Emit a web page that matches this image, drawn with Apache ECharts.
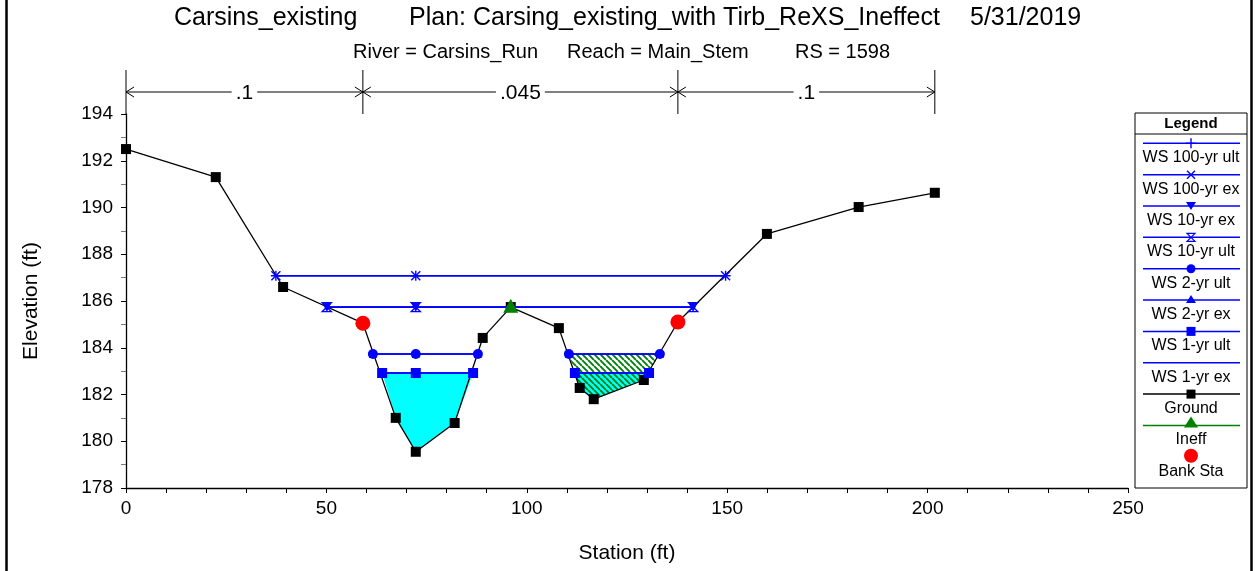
<!DOCTYPE html>
<html>
<head>
<meta charset="utf-8">
<script src="https://cdn.jsdelivr.net/npm/echarts@6/dist/echarts.min.js"></script>
<style>
html, body { margin: 0; padding: 0; background: #fff; }
#main { width: 1255px; height: 571px; }
</style>
</head>
<body>
<div id="main"></div>
<script>
// ground profile (station ft, elevation ft)
var groundSta  = [0, 22.4, 39.2, 59.1, 67.3, 72.3, 82.0, 89.0, 96.0, 108.0, 113.2, 116.7, 129.2, 137.7, 159.9, 182.8, 201.8];
var groundElev = [192.5, 191.3, 186.6, 185.05, 181.0, 179.55, 180.78, 184.42, 185.74, 184.84, 182.28, 181.8, 182.62, 185.1, 188.87, 190.02, 190.63];

// water surfaces: elevation + station segments
var ws100Elev = 187.08, ws100Segs = [[37.4, 72.3, 149.6]];
var ws10Elev  = 185.74, ws10Segs  = [[50.1, 72.3, 141.5]];
var ws2Elev   = 183.73, ws2Segs   = [[61.6, 72.3, 87.8], [110.5, 133.2]];
var ws1Elev   = 182.92, ws1Segs   = [[63.9, 72.3, 86.6], [112.0, 130.5]];

var ineffPts = [[96.0, 185.8]];
var bankPts  = [[59.1, 185.05], [137.7, 185.1]];

// manning's n along top
var nSta = [0, 59.1, 137.7, 201.8];
var nVal = ['.1', '.045', '.1'];

var legendNames = ['WS 100-yr ult', 'WS 100-yr ex', 'WS 10-yr ex', 'WS 10-yr ult', 'WS 2-yr ult',
  'WS 2-yr ex', 'WS 1-yr ult', 'WS 1-yr ex', 'Ground', 'Ineff', 'Bank Sta'];

var FONT = '"Liberation Sans", Arial, sans-serif';
var BLUE = '#0000ff';

var ground = groundSta.map(function (s, i) { return [s, groundElev[i]]; });

// polygon under a water level between two stations, following the ground
function waterPoly(elev, s0, s1) {
  var pts = [[s0, elev]];
  ground.forEach(function (g) { if (g[0] > s0 && g[0] < s1 && g[1] < elev) pts.push(g); });
  pts.push([s1, elev]);
  return pts;
}

var hatch = document.createElement('canvas');
hatch.width = hatch.height = 6;
(function () {
  var ctx = hatch.getContext('2d');
  ctx.strokeStyle = '#00800a';
  ctx.lineWidth = 1.9;
  ctx.beginPath();
  [-6, 0, 6].forEach(function (k) { ctx.moveTo(k, 0); ctx.lineTo(k + 6, 6); });
  ctx.stroke();
})();

function polySeries(pts, fill, z) {
  return {
    type: 'custom', silent: true, z: z, data: [[0, 180]],
    renderItem: function (p, api) {
      return { type: 'polygon', shape: { points: pts.map(function (q) { return api.coord(q); }) },
        style: { fill: fill, stroke: null } };
    }
  };
}

function wsSeries(name, elev, segs, symbol, size, filled) {
  return segs.map(function (seg) {
    return {
      name: name, type: 'line', z: 4, silent: true,
      data: seg.map(function (s) { return [s, elev]; }),
      symbol: symbol, symbolSize: size, showSymbol: symbol !== 'none',
      lineStyle: { color: BLUE, width: 1.6 },
      itemStyle: { color: filled ? BLUE : 'rgba(0,0,0,0)', borderColor: BLUE, borderWidth: filled ? 0 : 1.4 }
    };
  });
}

var PLUS = 'path://M5,0L5,10M0,5L10,5';
var CROSS = 'path://M0,0L10,10M10,0L0,10';
var HOUR = 'path://M0,0L10,0L0,10L10,10Z';

var series = [
  polySeries(waterPoly(ws1Elev, ws1Segs[0][0], ws1Segs[0][2]), '#00ffff', 1),
  polySeries(waterPoly(ws1Elev, ws1Segs[1][0], ws1Segs[1][1]), '#00ffff', 1),
  polySeries(waterPoly(ws2Elev, ws2Segs[1][0], ws2Segs[1][1]), { image: hatch, repeat: 'repeat' }, 2),
  {
    name: 'Ground', type: 'line', z: 3, silent: true, data: ground,
    symbol: 'rect', symbolSize: 10,
    lineStyle: { color: '#000', width: 1.3 }, itemStyle: { color: '#000' }
  }
];
series = series
  .concat(wsSeries('WS 100-yr ult', ws100Elev, ws100Segs, PLUS, 10, false))
  .concat(wsSeries('WS 100-yr ex', ws100Elev, ws100Segs, CROSS, 9, false))
  .concat(wsSeries('WS 10-yr ex', ws10Elev, ws10Segs, 'triangle', 10, true).map(function (s) { s.symbolRotate = 180; return s; }))
  .concat(wsSeries('WS 10-yr ult', ws10Elev, ws10Segs, HOUR, 9, false))
  .concat(wsSeries('WS 2-yr ult', ws2Elev, ws2Segs, 'circle', 10, true))
  .concat(wsSeries('WS 2-yr ex', ws2Elev, ws2Segs, 'triangle', 8, true))
  .concat(wsSeries('WS 1-yr ult', ws1Elev, ws1Segs, 'rect', 10, true))
  .concat(wsSeries('WS 1-yr ex', ws1Elev, ws1Segs, 'none', 0, true));

series.push({
  name: 'Ineff', type: 'scatter', zlevel: 1, z: 10, silent: true, data: ineffPts,
  symbol: 'triangle', symbolSize: [15, 14], itemStyle: { color: '#008000', opacity: 1 }
});
series.push({
  name: 'Bank Sta', type: 'scatter', zlevel: 1, z: 10, silent: true, data: bankPts,
  symbol: 'circle', symbolSize: 15, itemStyle: { color: '#ff0000', opacity: 1 }
});

// n-value bar above plot
series.push({
  type: 'custom', silent: true, clip: false, z: 6,
  encode: { x: [0, 1], y: 2 },
  data: nVal.map(function (v, i) { return [nSta[i], nSta[i + 1], i]; }),
  renderItem: function (params, api) {
    var i = api.value(2);
    var x0 = api.coord([api.value(0), 186])[0];
    var x1 = api.coord([api.value(1), 186])[0];
    var top = params.coordSys.y;
    var yb = top - 22;
    var st = { stroke: '#000', lineWidth: 1, fill: null };
    var kids = [
      { type: 'line', shape: { x1: x0, y1: top - 44, x2: x0, y2: top }, style: st },
      { type: 'line', shape: { x1: x0, y1: yb, x2: x1, y2: yb }, style: st },
      { type: 'polyline', shape: { points: [[x0 + 8, yb - 5], [x0, yb], [x0 + 8, yb + 5]] }, style: st },
      { type: 'polyline', shape: { points: [[x1 - 8, yb - 5], [x1, yb], [x1 - 8, yb + 5]] }, style: st },
      { type: 'text', x: (x0 + x1) / 2, y: yb + 1,
        style: { text: nVal[i], font: '21px ' + FONT, fill: '#000', align: 'center', verticalAlign: 'middle',
          backgroundColor: '#fff', padding: [0, 4] } }
    ];
    if (i === nVal.length - 1) {
      kids.push({ type: 'line', shape: { x1: x1, y1: top - 44, x2: x1, y2: top }, style: st });
    }
    return { type: 'group', children: kids };
  }
});

// legend drawn as graphic
var LX = 1191, LY0 = 143.3, LSTEP = 31.35;
var legendGfx = [
  { type: 'rect', shape: { x: 1135, y: 113, width: 112, height: 375 }, style: { fill: '#fff', stroke: '#000', lineWidth: 1 } },
  { type: 'line', shape: { x1: 1135, y1: 134, x2: 1247, y2: 134 }, style: { stroke: '#000', lineWidth: 1 } },
  { type: 'text', x: LX, y: 123.5, style: { text: 'Legend', font: 'bold 15px ' + FONT, fill: '#000', align: 'center', verticalAlign: 'middle' } }
];
function lstroke(c, w) { return { stroke: c, lineWidth: w || 1.4, fill: null }; }
legendNames.forEach(function (name, i) {
  var y = LY0 + i * LSTEP;
  var col = i < 8 ? BLUE : (i === 8 ? '#000' : '#008000');
  if (i < 10) {
    legendGfx.push({ type: 'line', shape: { x1: 1143, y1: y, x2: 1240, y2: y }, style: lstroke(col, 1.5) });
  }
  var m = null;
  if (i === 0) m = [{ type: 'line', shape: { x1: LX, y1: y - 5, x2: LX, y2: y + 5 }, style: lstroke(BLUE) },
    { type: 'line', shape: { x1: LX - 5, y1: y, x2: LX + 5, y2: y }, style: lstroke(BLUE) }];
  if (i === 1) m = [{ type: 'line', shape: { x1: LX - 4, y1: y - 4, x2: LX + 4, y2: y + 4 }, style: lstroke(BLUE) },
    { type: 'line', shape: { x1: LX + 4, y1: y - 4, x2: LX - 4, y2: y + 4 }, style: lstroke(BLUE) }];
  if (i === 2) m = [{ type: 'polygon', shape: { points: [[LX - 5, y - 4], [LX + 5, y - 4], [LX, y + 4]] }, style: { fill: BLUE } }];
  if (i === 3) m = [{ type: 'polygon', shape: { points: [[LX - 4, y - 4], [LX + 4, y - 4], [LX - 4, y + 4], [LX + 4, y + 4]] }, style: lstroke(BLUE, 1.2) }];
  if (i === 4) m = [{ type: 'circle', shape: { cx: LX, cy: y, r: 4.5 }, style: { fill: BLUE } }];
  if (i === 5) m = [{ type: 'polygon', shape: { points: [[LX - 5, y + 3], [LX + 5, y + 3], [LX, y - 5]] }, style: { fill: BLUE } }];
  if (i === 6) m = [{ type: 'rect', shape: { x: LX - 4.5, y: y - 4.5, width: 9, height: 9 }, style: { fill: BLUE } }];
  if (i === 8) m = [{ type: 'rect', shape: { x: LX - 4.5, y: y - 4.5, width: 9, height: 9 }, style: { fill: '#000' } }];
  if (i === 9) m = [{ type: 'polygon', shape: { points: [[LX - 7, y + 2], [LX + 7, y + 2], [LX, y - 9]] }, style: { fill: '#008000' } }];
  if (i === 10) m = [{ type: 'circle', shape: { cx: LX, cy: y - 1, r: 7 }, style: { fill: '#ff0000' } }];
  if (m) legendGfx = legendGfx.concat(m);
  legendGfx.push({ type: 'text', x: LX, y: y + 14.5, style: { text: name, font: '16px ' + FONT, fill: '#000', align: 'center', verticalAlign: 'middle' } });
});

var titleGfx = [
  { type: 'text', x: 174, y: 18, style: { text: 'Carsins_existing', font: '25px ' + FONT, fill: '#000', verticalAlign: 'middle' } },
  { type: 'text', x: 409, y: 18, style: { text: 'Plan: Carsing_existing_with Tirb_ReXS_Ineffect', font: '25px ' + FONT, fill: '#000', verticalAlign: 'middle' } },
  { type: 'text', x: 970, y: 18, style: { text: '5/31/2019', font: '25px ' + FONT, fill: '#000', verticalAlign: 'middle' } },
  { type: 'text', x: 353, y: 52, style: { text: 'River = Carsins_Run', font: '20px ' + FONT, fill: '#000', verticalAlign: 'middle' } },
  { type: 'text', x: 567, y: 52, style: { text: 'Reach = Main_Stem', font: '20px ' + FONT, fill: '#000', verticalAlign: 'middle' } },
  { type: 'text', x: 795, y: 52, style: { text: 'RS = 1598', font: '20px ' + FONT, fill: '#000', verticalAlign: 'middle' } },
  { type: 'line', shape: { x1: 6.5, y1: 0, x2: 6.5, y2: 571 }, style: { stroke: '#000', lineWidth: 2.5 } },
  { type: 'line', shape: { x1: 1251.5, y1: 0, x2: 1251.5, y2: 571 }, style: { stroke: '#000', lineWidth: 2.5 } }
];

var chart = echarts.init(document.getElementById('main'));
chart.setOption({
  animation: false,
  backgroundColor: '#fff',
  grid: { left: 126, right: 127, top: 114, bottom: 83 },
  xAxis: {
    type: 'value', min: 0, max: 250, interval: 50,
    name: 'Station (ft)', nameLocation: 'middle', nameGap: 55,
    nameTextStyle: { fontFamily: FONT, fontSize: 21, color: '#000' },
    axisLine: { onZero: false, lineStyle: { color: '#000', width: 1.3 } },
    axisTick: { show: true, length: 5, lineStyle: { color: '#000' } },
    minorTick: { show: true, splitNumber: 5, length: 5, lineStyle: { color: '#000' } },
    axisLabel: { fontFamily: FONT, fontSize: 19, color: '#000', margin: 11 },
    splitLine: { show: false }
  },
  yAxis: {
    type: 'value', min: 178, max: 194, interval: 2,
    name: 'Elevation (ft)', nameLocation: 'middle', nameGap: 84,
    nameTextStyle: { fontFamily: FONT, fontSize: 21, color: '#000' },
    axisLine: { show: true, onZero: false, lineStyle: { color: '#000', width: 1.3 } },
    axisTick: { show: true, length: 5, lineStyle: { color: '#000' } },
    minorTick: { show: true, splitNumber: 2, length: 5, lineStyle: { color: '#777' } },
    axisLabel: { fontFamily: FONT, fontSize: 19, color: '#000', margin: 13 },
    splitLine: { show: false }
  },
  graphic: titleGfx.concat(legendGfx),
  series: series
});
</script>
</body>
</html>
